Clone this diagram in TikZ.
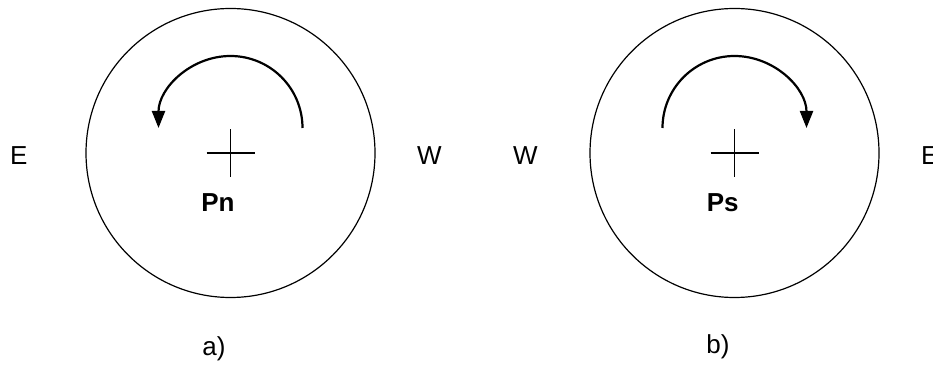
\documentclass[tikz,border=0pt]{standalone}
\usepackage{fontspec}
\setmainfont{Liberation Sans}
\usetikzlibrary{arrows.meta}
\tikzset{
  ring/.style={circle, draw, line width=1.2pt, minimum size=289pt, inner sep=0pt},
  rotarrow/.style={line width=2.2pt, -{Triangle[length=17pt,width=13pt]}},
  crossline/.style={line width=1.4pt},
  lbl/.style={inner sep=0pt, anchor=base west, font=\fontsize{26}{26}\selectfont},
  pole/.style={inner sep=0pt, anchor=base, font=\fontsize{26}{26}\selectfont\bfseries},
  subcaption/.style={inner sep=0pt, anchor=base, font=\fontsize{26}{26}\selectfont},
}
\begin{document}
\begin{tikzpicture}[x=1pt,y=1pt]
\useasboundingbox (0,0) rectangle (933,364);
% panel a
\node[ring] (cA) at (230.5,211) {};
\draw[crossline] ([xshift=-24pt]cA.center) -- ([xshift=24pt]cA.center);
\draw[crossline] ([yshift=-24pt]cA.center) -- ([yshift=24pt]cA.center);
\coordinate (rA) at (230.5,236);
\draw[rotarrow] ([xshift=72pt]rA) arc[start angle=0, end angle=180, radius=72pt];
\node[pole] (pn) at (218,152) {Pn};
\node[lbl] (eA) at (10,199) {E};
\node[lbl] (wA) at (417,199) {W};
\node[subcaption] (capA) at (214,9) {a)};
% panel b
\node[ring] (cB) at (734.5,211) {};
\draw[crossline] ([xshift=-24pt]cB.center) -- ([xshift=24pt]cB.center);
\draw[crossline] ([yshift=-24pt]cB.center) -- ([yshift=24pt]cB.center);
\coordinate (rB) at (734.5,236);
\draw[rotarrow] ([xshift=-72pt]rB) arc[start angle=180, end angle=0, radius=72pt];
\node[pole] (ps) at (722.7,152) {Ps};
\node[lbl] (wB) at (513,199) {W};
\node[lbl] (eB) at (921,199) {E};
\node[subcaption] (capB) at (718,11) {b)};
\end{tikzpicture}
\end{document}
